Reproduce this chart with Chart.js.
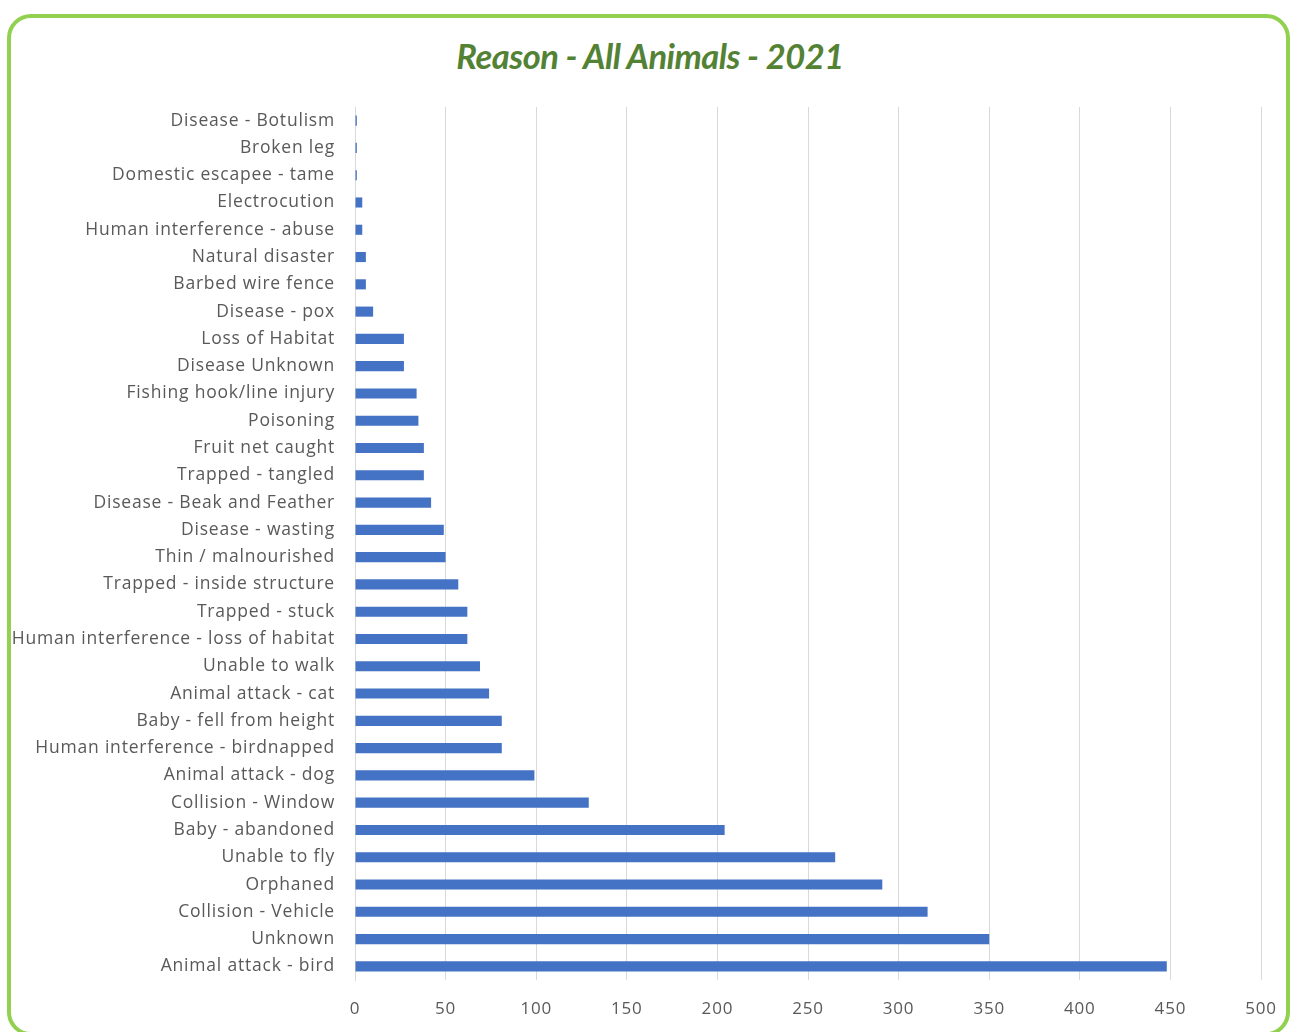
<!DOCTYPE html>
<html>
<head>
<meta charset="utf-8">
<title>Reason - All Animals - 2021</title>
<script src="https://cdn.jsdelivr.net/npm/chart.js@4.4.0/dist/chart.umd.min.js"></script>
<style>
  html, body { margin: 0; padding: 0; background: #fff; overflow: hidden; }
  #marco {
    position: absolute; left: 7px; top: 14px; width: 1283px; height: 1022px;
    border: 4px solid #92d050; border-radius: 24px; box-sizing: border-box;
  }
  #titulo {
    position: absolute; left: 0; top: 35px; width: 1300px; text-align: center;
    font-family: Lato, sans-serif; font-weight: bold; font-style: italic;
    font-size: 34.5px; color: #548235; letter-spacing: -0.5px;
  }
  #grafico { position: absolute; left: 0; top: 0; }
</style>
</head>
<body>
<div id="marco"></div>
<div id="titulo">Reason - All Animals - 2021</div>
<canvas id="grafico" width="1291" height="1032"></canvas>
<script>
// Datos (de arriba hacia abajo)
const razones = [
  'Disease - Botulism', 'Broken leg', 'Domestic escapee - tame', 'Electrocution',
  'Human interference - abuse', 'Natural disaster', 'Barbed wire fence', 'Disease - pox',
  'Loss of Habitat', 'Disease Unknown', 'Fishing hook/line injury', 'Poisoning',
  'Fruit net caught', 'Trapped - tangled', 'Disease - Beak and Feather', 'Disease - wasting',
  'Thin / malnourished', 'Trapped - inside structure', 'Trapped - stuck',
  'Human interference - loss of habitat', 'Unable to walk', 'Animal attack - cat',
  'Baby - fell from height', 'Human interference - birdnapped', 'Animal attack - dog',
  'Collision - Window', 'Baby - abandoned', 'Unable to fly', 'Orphaned',
  'Collision - Vehicle', 'Unknown', 'Animal attack - bird'
];
const cantidades = [
  1, 1, 1, 4,
  4, 6, 6, 10,
  27, 27, 34, 35,
  38, 38, 42, 49,
  50, 57, 62,
  62, 69, 74,
  81, 81, 99,
  129, 204, 265, 291,
  316, 350, 448
];
const ejeMin = 0;
const ejeMax = 500;
const ejePaso = 50;

// Espaciado de letras para parecerse al texto de Excel
const espaciado = {
  id: 'espaciado',
  beforeDraw: function(chart) {
    if ('letterSpacing' in chart.ctx) chart.ctx.letterSpacing = '0.8px';
  }
};

const ctx = document.getElementById('grafico');
new Chart(ctx, {
  type: 'bar',
  data: {
    labels: razones,
    datasets: [{
      label: 'Reason',
      data: cantidades,
      backgroundColor: '#4472c4',
      borderWidth: 0,
      barPercentage: 0.37,
      categoryPercentage: 1
    }]
  },
  options: {
    indexAxis: 'y',
    responsive: false,
    animation: false,
    layout: { padding: { top: 107, right: 30, left: 0, bottom: 0 } },
    plugins: {
      legend: { display: false },
      tooltip: { enabled: false }
    },
    scales: {
      x: {
        min: ejeMin,
        max: ejeMax,
        ticks: {
          stepSize: ejePaso,
          color: '#595959',
          padding: 19,
          font: { family: '"Open Sans", sans-serif', size: 17 }
        },
        grid: { color: '#d9d9d9', lineWidth: 1, drawTicks: false },
        border: { display: false },
        afterFit: function(scale) {
          scale.height = 52;
          scale.paddingRight = 30;
        }
      },
      y: {
        ticks: {
          color: '#595959',
          padding: 20,
          autoSkip: false,
          font: { family: '"Open Sans", sans-serif', size: 17.5 }
        },
        grid: { display: false, drawTicks: false },
        border: { display: true, color: '#d9d9d9', width: 1 },
        afterFit: function(scale) { scale.width = 355; }
      }
    }
  },
  plugins: [espaciado]
});
</script>
</body>
</html>
